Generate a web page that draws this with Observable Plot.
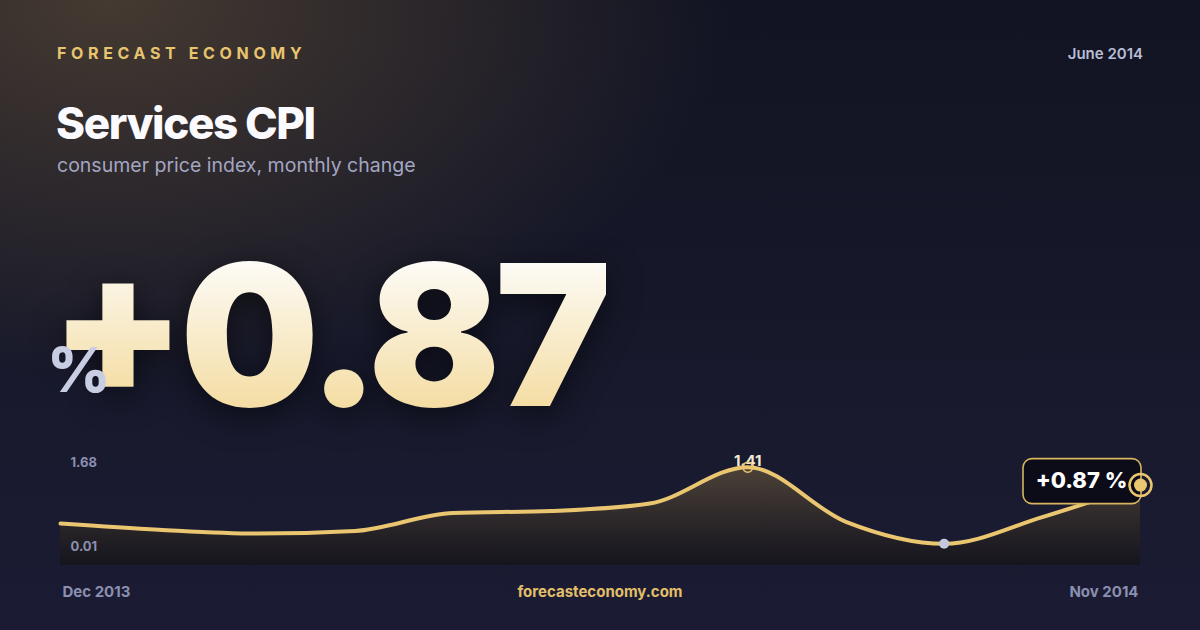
<!DOCTYPE html>
<html>
<head>
<meta charset="utf-8">
<script src="https://cdn.jsdelivr.net/npm/d3@7"></script>
<script src="https://cdn.jsdelivr.net/npm/@observablehq/plot@0.6"></script>
<style>
  html, body { margin: 0; padding: 0; }
  body {
    width: 1200px; height: 630px; overflow: hidden; position: relative;
    font-family: Inter, "Noto Sans", sans-serif;
    background:
      radial-gradient(ellipse 620px 380px at 110px 0px, rgba(72,60,50,0.95), rgba(72,60,50,0) 100%),
      linear-gradient(180deg, #121423 0%, #161829 45%, #1b1c34 100%);
  }
  .abs { position: absolute; white-space: nowrap; line-height: 1; }
  #brand { left: 57px; top: 45px; font-size: 16px; font-weight: 700; letter-spacing: 0.29em; color: #e8c46f; }
  #date { right: 57px; top: 46px; font-size: 15px; font-weight: 600; color: #b9bdd6; }
  #title { left: 56px; top: 101px; font-size: 44px; font-weight: 800; color: #fafaff; letter-spacing: -0.032em; }
  #subtitle { left: 57px; top: 156px; font-size: 19.5px; font-weight: 400; color: #a3a6c2; }
  #big {
    left: 50px; top: 237px; font-size: 196px; font-weight: 900; letter-spacing: -0.03em;
    filter: drop-shadow(0 8px 16px rgba(0,0,0,0.55));
  }
  #big span {
    display: inline-block;
    background: linear-gradient(180deg, #fdfcf9 10%, #f4dca0 90%);
    -webkit-background-clip: text; background-clip: text; color: transparent;
  }
  #big span.plus { transform: translateY(-13px); }
  #pct { left: 47px; top: 339px; font-size: 62px; font-weight: 800; color: #c9cde3; }
  #site { left: 0; width: 1200px; text-align: center; top: 584px; font-size: 15px; font-weight: 700; color: #e3bf6a; }
  #chart { position: absolute; left: 0; top: 440px; }
  #chart svg { overflow: visible; }
</style>
</head>
<body>
<div class="abs" id="brand">FORECAST ECONOMY</div>
<div class="abs" id="date">June 2014</div>
<div class="abs" id="title">Services CPI</div>
<div class="abs" id="subtitle">consumer price index, monthly change</div>
<div class="abs" id="big"><span class="plus">+</span><span>0.87</span></div>
<div class="abs" id="pct">%</div>
<div id="chart"></div>
<div class="abs" id="site">forecasteconomy.com</div>
<script>
// ---- data ----
const months = ["Dec 2013","Jan 2014","Feb 2014","Mar 2014","Apr 2014","May 2014",
                "Jun 2014","Jul 2014","Aug 2014","Sep 2014","Oct 2014","Nov 2014"];
const values = [0.15, 0.09, 0.06, 0.08, 0.29, 0.32, 0.45, 1.41, 0.17, 0.01, 0.23, 0.87];
const yTickValues = [1.68, 0.01];
const yDomain = [-0.043, 1.68];

const data = months.map((m, i) => ({month: m, i, v: values[i]}));
const peak = data.reduce((a, b) => (b.v > a.v ? b : a));
const low = data.reduce((a, b) => (b.v < a.v ? b : a));
const last = data[data.length - 1];

const gold = "#eac671";

const defs = () => {
  const d = d3.create("svg:defs");
  const g = d.append("linearGradient").attr("id", "cpiArea")
    .attr("x1", 0).attr("y1", 0).attr("x2", 0).attr("y2", 1);
  g.append("stop").attr("offset", "0%").attr("stop-color", "#4d4238");
  g.append("stop").attr("offset", "55%").attr("stop-color", "#2c2729");
  g.append("stop").attr("offset", "100%").attr("stop-color", "#15151e");
  return d.node();
};

const badge = (index, scales) => {
  const cx = scales.x(last.i), cy = scales.y(last.v);
  const g = d3.create("svg:g");
  g.append("rect")
    .attr("x", cx - 117).attr("y", cy - 26).attr("width", 118).attr("height", 45)
    .attr("rx", 9).attr("fill", "#0b0c17").attr("stroke", "#d9b560").attr("stroke-width", 1.6);
  return g.node();
};

const chart = Plot.plot({
  width: 1200,
  height: 170,
  marginLeft: 60,
  marginRight: 60,
  marginTop: 19,
  marginBottom: 45,
  style: {background: "transparent", fontFamily: "Inter, sans-serif", overflow: "visible"},
  x: {type: "linear", domain: [0, months.length - 1], axis: null},
  y: {type: "sqrt", domain: yDomain, axis: null},
  marks: [
    defs,
    Plot.areaY(data, {x: "i", y1: yDomain[0], y2: "v", curve: "monotone-x", fill: "url(#cpiArea)"}),
    Plot.lineY(data, {x: "i", y: "v", curve: "monotone-x", stroke: gold, strokeWidth: 4}),
    Plot.text(yTickValues, {x: () => 0, y: d => d, text: d => d.toFixed(2), textAnchor: "start", dx: 10, dy: 3,
      fill: "#8b8fb0", fontSize: 13, fontWeight: 700}),
    Plot.text([data[0]], {x: "i", text: "month", frameAnchor: "bottom", dy: 31, dx: 2, textAnchor: "start",
      fill: "#8b8fb0", fontSize: 15, fontWeight: 700}),
    Plot.text([last], {x: "i", text: "month", frameAnchor: "bottom", dy: 31, dx: -2, textAnchor: "end",
      fill: "#8b8fb0", fontSize: 15, fontWeight: 700}),
    Plot.text([peak], {x: "i", y: "v", text: d => d.v.toFixed(2), dy: -6, lineAnchor: "middle",
      fill: "#f1ead8", fontSize: 15, fontWeight: 700}),
    Plot.dot([peak], {x: "i", y: "v", r: 5, stroke: gold, strokeWidth: 1.5, fill: "none"}),
    Plot.dot([low], {x: "i", y: "v", r: 5, fill: "#c5c9df"}),
    badge,
    Plot.text([last], {x: "i", y: "v", text: d => "+" + d.v.toFixed(2) + " %", dx: -59, dy: -4,
      fill: "#ffffff", fontSize: 22, fontWeight: 800}),
    Plot.dot([last], {x: "i", y: "v", r: 11, stroke: gold, strokeWidth: 2.5, fill: "none"}),
    Plot.dot([last], {x: "i", y: "v", r: 6.5, fill: gold})
  ]
});
document.getElementById("chart").appendChild(chart);
</script>
</body>
</html>
